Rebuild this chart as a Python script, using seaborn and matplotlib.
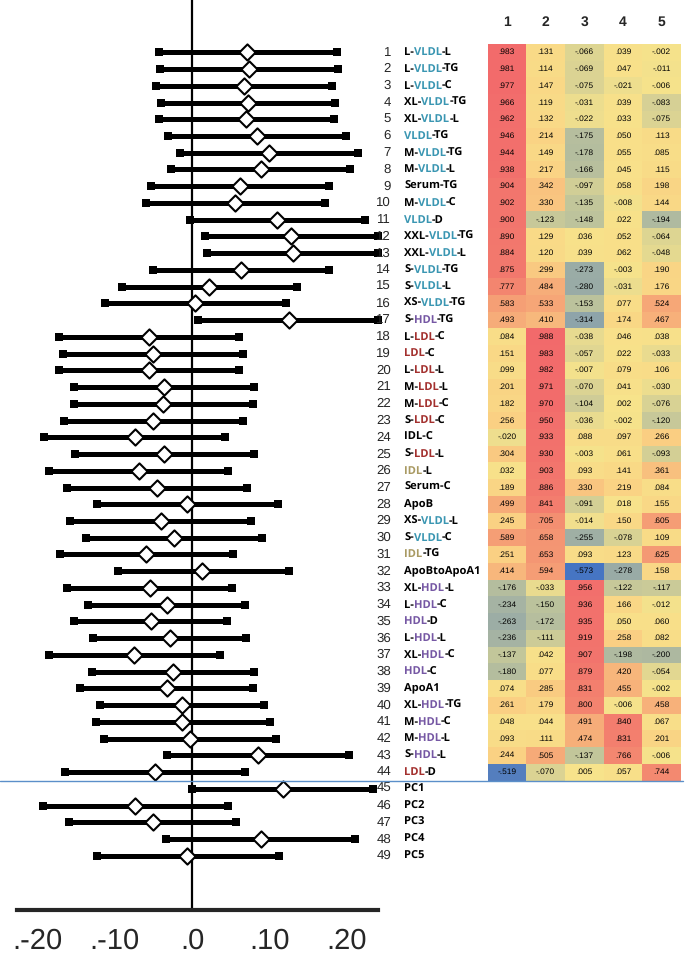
import numpy as np
import pandas as pd
import matplotlib
matplotlib.use("Agg")
import matplotlib.pyplot as plt
import seaborn as sns
from matplotlib.colors import LinearSegmentedColormap
from matplotlib.lines import Line2D
from matplotlib import transforms

sns.set_style("white")
plt.rcParams["font.family"] = ["Liberation Sans", "DejaVu Sans"]
plt.rcParams["text.hinting"] = "no_hinting"

# ---------------------------------------------------------------------------
# Data
# ---------------------------------------------------------------------------
labels = [
    "L-VLDL-L", "L-VLDL-TG", "L-VLDL-C", "XL-VLDL-TG", "XL-VLDL-L", "VLDL-TG",
    "M-VLDL-TG", "M-VLDL-L", "Serum-TG", "M-VLDL-C", "VLDL-D", "XXL-VLDL-TG",
    "XXL-VLDL-L", "S-VLDL-TG", "S-VLDL-L", "XS-VLDL-TG", "S-HDL-TG", "L-LDL-C",
    "LDL-C", "L-LDL-L", "M-LDL-L", "M-LDL-C", "S-LDL-C", "IDL-C", "S-LDL-L",
    "IDL-L", "Serum-C", "ApoB", "XS-VLDL-L", "S-VLDL-C", "IDL-TG", "ApoBtoApoA1",
    "XL-HDL-L", "L-HDL-C", "HDL-D", "L-HDL-L", "XL-HDL-C", "HDL-C", "ApoA1",
    "XL-HDL-TG", "M-HDL-C", "M-HDL-L", "S-HDL-L", "LDL-D",
    "PC1", "PC2", "PC3", "PC4", "PC5",
]
# lipoprotein class written in colour inside each label ("" = all black)
lipo = [
    "VLDL", "VLDL", "VLDL", "VLDL", "VLDL", "VLDL", "VLDL", "VLDL", "", "VLDL",
    "VLDL", "VLDL", "VLDL", "VLDL", "VLDL", "VLDL", "HDL", "LDL", "LDL", "LDL",
    "LDL", "LDL", "LDL", "", "LDL", "IDL", "", "", "VLDL", "VLDL", "IDL", "",
    "HDL", "HDL", "HDL", "HDL", "HDL", "HDL", "", "HDL", "HDL", "HDL", "HDL",
    "LDL", "", "", "", "", "",
]

est = [
    0.0716, 0.0733, 0.0677, 0.0720, 0.0703, 0.0837, 0.1000, 0.0888, 0.0617, 0.0560,
    0.1100, 0.1280, 0.1310, 0.0638, 0.0224, 0.0039, 0.1250, -0.0552, -0.0509, -0.0556,
    -0.0366, -0.0375, -0.0500, -0.0741, -0.0358, -0.0686, -0.0453, -0.0065, -0.0405, -0.0237,
    -0.0595, 0.0134, -0.0547, -0.0328, -0.0535, -0.0289, -0.0746, -0.0250, -0.0323, -0.0134,
    -0.0125, -0.0022, 0.0858, -0.0483, 0.1173, -0.0741, -0.0509, 0.0893, -0.0060,
]
ci_lo = [
    -0.0427, -0.0410, -0.0461, -0.0401, -0.0427, -0.0306, -0.0151, -0.0272, -0.0535, -0.0591,
    -0.0026, 0.0172, 0.0194, -0.0500, -0.0906, -0.1130, 0.0073, -0.1720, -0.1673, -0.1720,
    -0.1522, -0.1530, -0.1652, -0.1910, -0.1509, -0.1846, -0.1617, -0.1233, -0.1582, -0.1371,
    -0.1712, -0.0957, -0.1617, -0.1341, -0.1527, -0.1277, -0.1855, -0.1290, -0.1445, -0.1190,
    -0.1246, -0.1134, -0.0323, -0.1647, 0.0004, -0.1924, -0.1591, -0.0340, -0.1233,
]
ci_hi = [
    0.1870, 0.1890, 0.1815, 0.1854, 0.1833, 0.1992, 0.2152, 0.2040, 0.1777, 0.1720,
    0.2234, 0.2400, 0.2400, 0.1777, 0.1362, 0.1212, 0.2400, 0.0612, 0.0656, 0.0612,
    0.0798, 0.0789, 0.0656, 0.0431, 0.0806, 0.0470, 0.0712, 0.1117, 0.0763, 0.0901,
    0.0530, 0.1250, 0.0522, 0.0686, 0.0448, 0.0694, 0.0367, 0.0798, 0.0793, 0.0931,
    0.1009, 0.1082, 0.2035, 0.0690, 0.2338, 0.0462, 0.0569, 0.2113, 0.1121,
]

factor_names = ["1", "2", "3", "4", "5"]
f1 = [.983, .981, .977, .966, .962, .946, .944, .938, .904, .902, .900, .890, .884, .875, .777,
      .583, .493, .084, .151, .099, .201, .182, .256, -.020, .304, .032, .189, .499, .245, .589,
      .251, .414, -.176, -.234, -.263, -.236, -.137, -.180, .074, .261, .048, .093, .244, -.519]
f2 = [.131, .114, .147, .119, .132, .214, .149, .217, .342, .330, -.123, .129, .120, .299, .484,
      .533, .410, .988, .983, .982, .971, .970, .950, .933, .930, .903, .886, .841, .705, .658,
      .653, .594, -.033, -.150, -.172, -.111, .042, .077, .285, .179, .044, .111, .505, -.070]
f3 = [-.066, -.069, -.075, -.031, -.022, -.175, -.178, -.166, -.097, -.135, -.148, .036, .039,
      -.273, -.280, -.153, -.314, -.038, -.057, -.007, -.070, -.104, -.036, .088, -.003, .093,
      .330, -.091, -.014, -.255, .093, -.573, .956, .936, .935, .919, .907, .879, .831, .800,
      .491, .474, -.137, .005]
f4 = [.039, .047, -.021, .039, .033, .050, .055, .045, .058, -.008, .022, .052, .062, -.003,
      -.031, .077, .174, .046, .022, .079, .041, .002, -.002, .097, .061, .141, .219, .018, .150,
      -.078, .123, -.278, -.122, .166, .050, .258, -.198, .420, .455, -.006, .840, .831, .766, .057]
f5 = [-.002, -.011, -.006, -.083, -.075, .113, .085, .115, .198, .144, -.194, -.064, -.048,
      .190, .176, .524, .467, .038, -.033, .106, -.030, -.076, -.120, .266, -.093, .361, .084,
      .155, .605, .109, .625, .158, -.117, -.012, .060, .082, -.200, -.054, -.002, .458, .067,
      .201, -.006, .744]

tick_vals = [-0.2, -0.1, 0.0, 0.1, 0.2]
tick_text = [".-20", ".-10", ".0", ".10", ".20"]

lipo_colors = {"VLDL": "#3a96b2", "LDL": "#a3302e", "HDL": "#7658a4", "IDL": "#a99a63"}

# ---------------------------------------------------------------------------
# Figure
# ---------------------------------------------------------------------------
W, H = 685, 957
fig = plt.figure(figsize=(W / 100, H / 100), dpi=100)

def fx(px):
    return px / W

def fy(py):
    return 1 - py / H

# forest plot
ax = fig.add_axes([fx(16.7), fy(910), fx(378) - fx(16.7), fy(0) - fy(910)])
df = pd.DataFrame({"row": np.arange(1, len(est) + 1), "est": est, "lo": ci_lo, "hi": ci_hi})

ax.axvline(0, color="black", lw=1.6, zorder=1)
ax.hlines(df["row"], df["lo"], df["hi"], color="black", lw=3.6, zorder=2, clip_on=False)
ends = pd.concat([df[["row", "lo"]].rename(columns={"lo": "x"}),
                  df[["row", "hi"]].rename(columns={"hi": "x"})])
sns.scatterplot(data=ends, x="x", y="row", marker="s", s=28, color="black",
                linewidth=0, zorder=3, ax=ax, clip_on=False)
sns.scatterplot(data=df, x="est", y="row", marker="D", s=68, color="white",
                edgecolor="black", linewidth=1.5, zorder=4, ax=ax)

ax.set_xlim(-0.2268, 0.2406)
ax.set_ylim(52.24, -2.124)
ax.set_yticks([])
ax.set_xlabel("")
ax.set_ylabel("")
for s in ["left", "right", "top"]:
    ax.spines[s].set_visible(False)
ax.spines["bottom"].set_linewidth(3)
ax.set_xticks(tick_vals)
ax.set_xticklabels(tick_text, fontsize=21)
ax.tick_params(axis="x", length=11, width=2.5, pad=2, direction="out", color="black")

# row numbers and coloured labels (pieces laid out one after another)
fig.canvas.draw()
rend = fig.canvas.get_renderer()
lab_kw = dict(fontsize=8, family="Open Sans", weight="bold")
tr = transforms.blended_transform_factory(fig.transFigure, ax.transData)
for i, (lab, cls) in enumerate(zip(labels, lipo), start=1):
    ax.text(fx(391), i, str(i), transform=tr, ha="right", va="center", fontsize=9.5)
    if cls:
        a, b = lab.split(cls, 1)
        pieces = [(a, "black"), (cls, lipo_colors[cls]), (b, "black")]
    else:
        pieces = [(lab, "black")]
    x = fx(404)
    for txt, col in pieces:
        if not txt:
            continue
        t = ax.text(x, i, txt, transform=tr, ha="left", va="center", color=col, **lab_kw)
        x += t.get_window_extent(rend).width / W

# loading heatmap
loadings = pd.DataFrame({"1": f1, "2": f2, "3": f3, "4": f4, "5": f5})
annot = loadings.map(lambda v: f"{v:.3f}".replace("0.", "."))
cmap = LinearSegmentedColormap.from_list("load", [
    (0.0, "#3f70c6"), (0.1875, "#93a7a8"), (0.28, "#bcc29c"), (0.375, "#f7e38b"),
    (0.53, "#fad183"), (0.69, "#f6aa78"), (0.84, "#f38a70"), (1.0, "#f2696b")])
hax = fig.add_axes([fx(487.5), fy(780.5), fx(681) - fx(487.5), fy(43.9) - fy(780.5)])
sns.heatmap(loadings, ax=hax, cmap=cmap, vmin=-0.6, vmax=1.0, annot=annot.values, fmt="",
            cbar=False, annot_kws={"fontsize": 6, "color": "black"},
            xticklabels=factor_names, yticklabels=False)
hax.xaxis.tick_top()
hax.tick_params(axis="x", length=0, pad=11)
for t in hax.get_xticklabels():
    t.set_fontsize(10)
    t.set_fontweight("bold")

# separator between lipid measures and PCs
fig.add_artist(Line2D([0, fx(683)], [fy(780.5), fy(780.5)], transform=fig.transFigure,
                      color="#5b8fc9", lw=1.0))

fig.savefig("out.png", dpi=100)
plt.close()
